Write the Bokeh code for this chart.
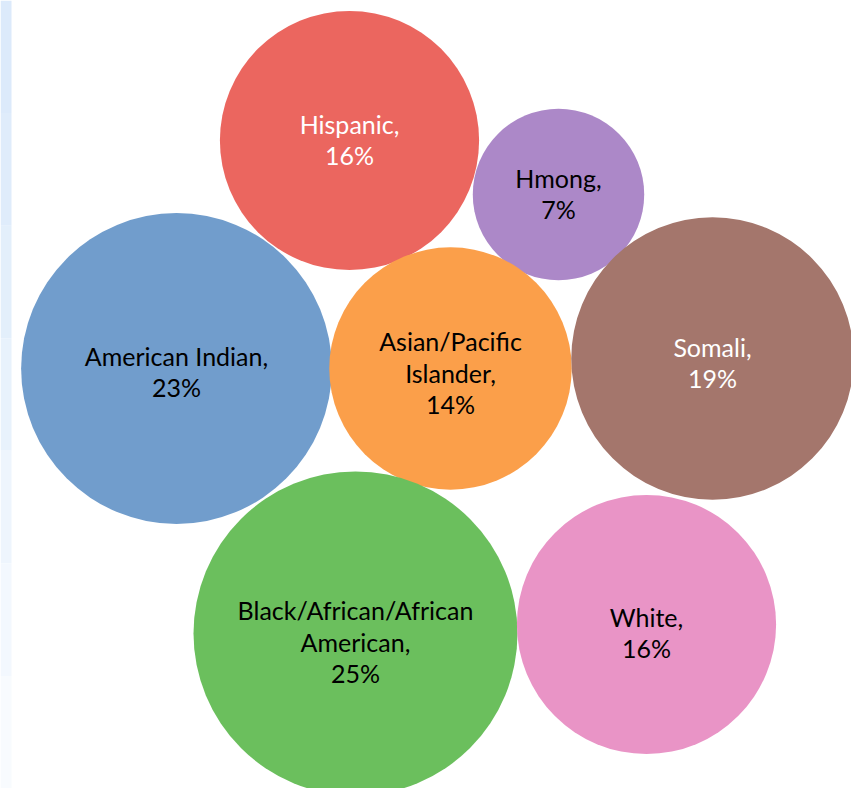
from bokeh.plotting import figure
from bokeh.models import Range1d, ColumnDataSource
from bokeh.core.properties import value
from bokeh.embed import file_html
from bokeh.resources import INLINE
import numpy as np

# ---- data ----
groups = ["Hispanic", "Hmong", "American Indian", "Asian/Pacific Islander",
          "Somali", "Black/African/African American", "White"]
labels = ["Hispanic,\n16%", "Hmong,\n7%", "American Indian,\n23%",
          "Asian/Pacific\nIslander,\n14%", "Somali,\n19%",
          "Black/African/African\nAmerican,\n25%", "White,\n16%"]
percent = [16, 7, 23, 14, 19, 25, 16]

# ---- layout (packed bubble positions, in page pixels) ----
cx = [349, 558, 176, 450, 712, 355, 646]
cy = [140, 194, 368, 368, 358, 633, 624]
label_dy = [-1, -1, 3, 4, 4, 8, 8]
colors = ["#EB665F", "#AC88C8", "#719DCC", "#FB9F4A", "#A4766C", "#6BBF5D", "#E994C6"]
text_colors = ["white", "black", "black", "black", "white", "black", "black"]

radius = [32.4 * np.sqrt(v) for v in percent]
label_y = [y + d for y, d in zip(cy, label_dy)]

src = ColumnDataSource(dict(x=cx, y=cy, r=radius, color=colors, label=labels,
                            ly=label_y, tc=text_colors, group=groups))

W, H = 851, 788
p = figure(width=W, height=H, output_backend="svg", toolbar_location=None,
           x_range=Range1d(0, W), y_range=Range1d(H, 0),
           min_border=0, outline_line_color=None, background_fill_color="white",
           border_fill_color="white")
p.axis.visible = False
p.grid.visible = False

# light blue strip at left edge
strip_cols = ["#DCEAFB", "#DFECFB", "#E3EFFB", "#E8F2FC", "#EEF5FD", "#F3F8FE", "#F8FBFE"]
n = len(strip_cols)
p.quad(left=[0] * n, right=[11] * n,
       top=[i * H / n for i in range(n)],
       bottom=[(i + 1) * H / n for i in range(n)],
       fill_color=strip_cols, line_color=None)

p.circle(x="x", y="y", radius="r", fill_color="color", line_color=None, source=src)
p.text(x="x", y="ly", text="label", text_color="tc", source=src,
       text_align="center", text_baseline="middle",
       text_font=value("Lato"), text_font_size="25px", text_line_height=1.05)

open("out.html", "w").write(file_html(p, INLINE))
